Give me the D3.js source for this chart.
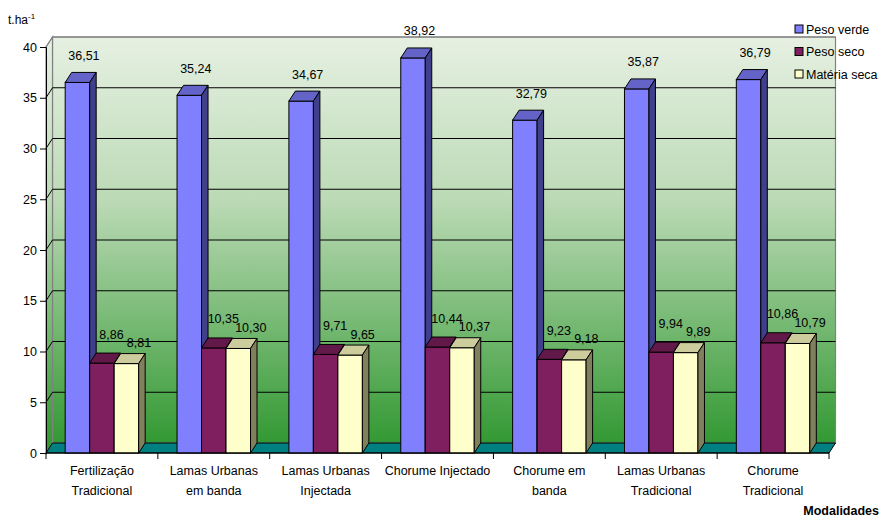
<!DOCTYPE html>
<html>
<head>
<meta charset="utf-8">
<script src="https://cdn.jsdelivr.net/npm/d3@7"></script>
<style>
  body { margin: 0; background: #fff; }
  svg { display: block; font-family: "Liberation Sans", Arial, sans-serif; }
</style>
</head>
<body>
<div id="chart"></div>
<script>
// Data
var categories = ["Fertilização\nTradicional", "Lamas Urbanas\nem banda", "Lamas Urbanas\nInjectada",
                  "Chorume Injectado", "Chorume em\nbanda", "Lamas Urbanas\nTradicional", "Chorume\nTradicional"];
var seriesNames = ["Peso verde", "Peso seco", "Matéria seca"];
var pesoVerde = [36.51, 35.24, 34.67, 38.92, 32.79, 35.87, 36.79];
var pesoSeco = [8.86, 10.35, 9.71, 10.44, 9.23, 9.94, 10.86];
var materiaSeca = [8.81, 10.30, 9.65, 10.37, 9.18, 9.89, 10.79];
var yTicks = [0, 5, 10, 15, 20, 25, 30, 35, 40];

var seriesValues = [pesoVerde, pesoSeco, materiaSeca];
// front, top, side colours per series
var colors = [
  { front: "#8080FF", top: "#6464C8", side: "#3F3F8C" },
  { front: "#7F1F5F", top: "#63184A", side: "#4A1238" },
  { front: "#FFFFCC", top: "#CCCC9C", side: "#80805F" }
];

var width = 881, height = 519;
var x0 = 46, x1 = 829, yBottom = 453, yTop = 47;
var dx = 6.5, dy = -10;   // depth of the 3d box

var svg = d3.select("#chart").append("svg")
  .attr("width", width).attr("height", height);

var y = d3.scaleLinear().domain([0, 40]).range([yBottom, yTop]);
var xCat = d3.scaleBand().domain(d3.range(categories.length)).range([x0, x1]).padding(0);
var bw = xCat.bandwidth();
var barW = bw * 0.219;
var gap = (bw - 3 * barW) / 2;

var fmt = d3.formatLocale({ decimal: ",", thousands: ".", grouping: [3], currency: ["", ""] }).format(".2f");

// Gradient for walls
var defs = svg.append("defs");
var grad = defs.append("linearGradient").attr("id", "wallGrad")
  .attr("gradientUnits", "userSpaceOnUse")
  .attr("x1", 0).attr("y1", y(40) + dy).attr("x2", 0).attr("y2", y(0) + dy);
grad.append("stop").attr("offset", "0%").attr("stop-color", "#E6F0E2");
grad.append("stop").attr("offset", "40%").attr("stop-color", "#BCDAB6");
grad.append("stop").attr("offset", "100%").attr("stop-color", "#339933");

// Back wall
svg.append("rect")
  .attr("x", x0 + dx).attr("y", y(40) + dy)
  .attr("width", x1 - x0).attr("height", y(0) - y(40))
  .attr("fill", "url(#wallGrad)")
  .attr("stroke", "#808080").attr("stroke-width", 1.2);

// Side wall
svg.append("path")
  .attr("d", "M" + x0 + "," + y(0) + "L" + x0 + "," + y(40) + "L" + (x0 + dx) + "," + (y(40) + dy) +
             "L" + (x0 + dx) + "," + (y(0) + dy) + "Z")
  .attr("fill", "url(#wallGrad)")
  .attr("stroke", "#808080").attr("stroke-width", 1.2);

// Gridlines
yTicks.filter(function(t) { return t > 0; }).forEach(function(t) {
  var c = t === 40 ? "#808080" : "#000";
  svg.append("line")
    .attr("x1", x0 + dx).attr("x2", x1 + dx)
    .attr("y1", y(t) + dy).attr("y2", y(t) + dy)
    .attr("stroke", c).attr("stroke-width", 1);
  svg.append("line")
    .attr("x1", x0).attr("y1", y(t))
    .attr("x2", x0 + dx).attr("y2", y(t) + dy)
    .attr("stroke", c).attr("stroke-width", 1);
});

// Floor
svg.append("path")
  .attr("d", "M" + x0 + "," + y(0) + "L" + (x0 + dx) + "," + (y(0) + dy) + "L" + (x1 + dx) + "," + (y(0) + dy) +
             "L" + x1 + "," + y(0) + "Z")
  .attr("fill", "#008080").attr("stroke", "#000").attr("stroke-width", 1);

// Bars
var bars = [];
categories.forEach(function(c, i) {
  seriesValues.forEach(function(vals, s) {
    bars.push({ cat: i, s: s, v: vals[i] });
  });
});

var barG = svg.append("g");
bars.forEach(function(d) {
  var bx = xCat(d.cat) + gap + d.s * barW;
  var yv = y(d.v), y0 = y(0);
  var col = colors[d.s];
  var g = barG.append("g");
  g.append("rect")
    .attr("x", bx).attr("y", yv).attr("width", barW).attr("height", y0 - yv)
    .attr("fill", col.front).attr("stroke", "#000").attr("stroke-width", 1);
  g.append("path")
    .attr("d", "M" + bx + "," + yv + "L" + (bx + dx) + "," + (yv + dy) + "L" + (bx + barW + dx) + "," + (yv + dy) +
               "L" + (bx + barW) + "," + yv + "Z")
    .attr("fill", col.top).attr("stroke", "#000").attr("stroke-width", 1);
  g.append("path")
    .attr("d", "M" + (bx + barW) + "," + yv + "L" + (bx + barW + dx) + "," + (yv + dy) + "L" + (bx + barW + dx) + "," + (y0 + dy) +
               "L" + (bx + barW) + "," + y0 + "Z")
    .attr("fill", col.side).attr("stroke", "#000").attr("stroke-width", 1);
});

// Value labels
var lblOff = [{ x: 0, y: -17 }, { x: 3, y: -19 }, { x: 6, y: -11 }];
svg.append("g").selectAll("text")
  .data(bars)
  .enter().append("text")
    .attr("x", function(d) { return xCat(d.cat) + gap + d.s * barW + barW / 2 + dx + lblOff[d.s].x; })
    .attr("y", function(d) { return y(d.v) + dy + lblOff[d.s].y + 4.5; })
    .attr("text-anchor", "middle")
    .attr("font-size", "12.5px")
    .attr("fill", "#000")
    .text(function(d) { return fmt(d.v); });

// Axes
var leftAxis = d3.axisLeft(y).tickValues(yTicks).tickSize(6).tickPadding(3).tickFormat(d3.format("d"));
var gy = svg.append("g").attr("transform", "translate(" + x0 + ",0)").call(leftAxis);
gy.select(".domain").attr("stroke", "#000");
gy.selectAll("text").attr("font-size", "12.5px").attr("font-family", "Liberation Sans, Arial, sans-serif").attr("fill", "#000");

svg.append("line").attr("x1", x0).attr("x2", x1).attr("y1", y(0)).attr("y2", y(0)).attr("stroke", "#000");
d3.range(categories.length + 1).forEach(function(i) {
  var tx = x0 + i * bw;
  svg.append("line").attr("x1", tx).attr("x2", tx).attr("y1", y(0)).attr("y2", y(0) + 6).attr("stroke", "#000");
});

// Category labels
var catG = svg.append("g");
categories.forEach(function(c, i) {
  var t = catG.append("text")
    .attr("x", xCat(i) + bw / 2).attr("y", 475)
    .attr("text-anchor", "middle").attr("font-size", "12.5px").attr("fill", "#000");
  c.split("\n").forEach(function(line, k) {
    t.append("tspan").attr("x", xCat(i) + bw / 2).attr("dy", k === 0 ? 0 : 20).text(line);
  });
});

// Axis titles
var yt = svg.append("text").attr("x", 8).attr("y", 24).attr("font-size", "12px").attr("fill", "#000");
yt.append("tspan").text("t.ha");
yt.append("tspan").attr("font-size", "8px").attr("dy", -5).text("-1");

svg.append("text")
  .attr("x", 879).attr("y", 515)
  .attr("text-anchor", "end").attr("font-size", "12.5px").attr("font-weight", "bold")
  .attr("fill", "#000").text("Modalidades");

// Legend
var legend = svg.append("g").attr("transform", "translate(795,25)");
seriesNames.forEach(function(n, i) {
  var row = legend.append("g").attr("transform", "translate(0," + (i * 22.5) + ")");
  row.append("rect").attr("width", 8).attr("height", 8)
    .attr("fill", colors[i].front).attr("stroke", "#000").attr("stroke-width", 1);
  row.append("text").attr("x", 11).attr("y", 8.5)
    .attr("font-size", "12.5px").attr("fill", "#000").text(n);
});
</script>
</body>
</html>
